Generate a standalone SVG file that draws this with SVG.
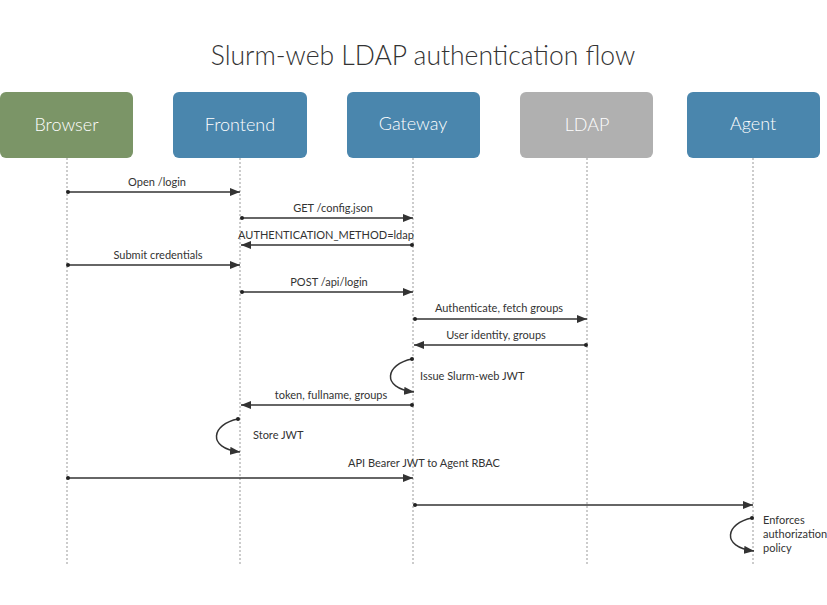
<svg xmlns="http://www.w3.org/2000/svg" width="827" height="605" viewBox="0 0 827 605">
<style>
.title{font-family:Lato,"Open Sans",sans-serif;font-size:26.5px;fill:#333;text-anchor:middle;font-weight:300}
.nt{font-family:Lato,"Open Sans",sans-serif;font-size:18px;fill:#fff;text-anchor:middle;font-weight:300}
.life{stroke:#cccccc;stroke-width:2;stroke-dasharray:2 2;fill:none}
.msg{stroke:#333;stroke-width:1.5;fill:none}
.lbl{font-family:Lato,"Open Sans",sans-serif;font-size:11px;fill:#333;text-anchor:middle}
.lbll{font-family:Lato,"Open Sans",sans-serif;font-size:11px;fill:#333;text-anchor:start}
.dot{fill:#222}
</style>
<defs>
<marker id="ah" viewBox="0 0 10 8" refX="10" refY="4" markerWidth="10" markerHeight="8" markerUnits="userSpaceOnUse" orient="auto">
<path d="M0,0 L10,4 L0,8 z" fill="#333"/>
</marker>
</defs>
<rect width="827" height="605" fill="#fff"/>
<text class="title" x="423" y="65">Slurm-web LDAP authentication flow</text>
<g id="lifelines">
<line class="life" x1="67" y1="158" x2="67" y2="566"/>
<line class="life" x1="240" y1="158" x2="240" y2="566"/>
<line class="life" x1="413" y1="158" x2="413" y2="566"/>
<line class="life" x1="587" y1="158" x2="587" y2="566"/>
<line class="life" x1="753" y1="158" x2="753" y2="566"/>
</g>
<g id="browser"><rect x="0" y="92" width="133" height="66" rx="6" fill="#7b9567"/><text class="nt" x="66.5" y="131">Browser</text></g>
<g id="frontend"><rect x="173" y="92" width="134" height="66" rx="6" fill="#4a86ad"/><text class="nt" x="240" y="131">Frontend</text></g>
<g id="gateway"><rect x="347" y="92" width="133" height="66" rx="6" fill="#4a86ad"/><text class="nt" x="413" y="130">Gateway</text></g>
<g id="ldap"><rect x="520" y="92" width="133" height="66" rx="6" fill="#b0b0b0"/><text class="nt" x="587" y="131">LDAP</text></g>
<g id="agent"><rect x="687" y="92" width="133" height="66" rx="6" fill="#4a86ad"/><text class="nt" x="753" y="130">Agent</text></g>
<g id="connectors">
<line class="msg" x1="67" y1="192" x2="240" y2="192" marker-end="url(#ah)"/><circle class="dot" cx="68" cy="192" r="2"/>
<text class="lbl" x="157" y="186">Open /login</text>
<line class="msg" x1="241" y1="218" x2="413" y2="218" marker-end="url(#ah)"/><circle class="dot" cx="242" cy="218" r="2"/>
<text class="lbl" x="333" y="212">GET /config.json</text>
<line class="msg" x1="413" y1="245" x2="241" y2="245" marker-end="url(#ah)"/><circle class="dot" cx="412" cy="245" r="2"/>
<text class="lbl" x="326" y="239">AUTHENTICATION_METHOD=ldap</text>
<line class="msg" x1="67" y1="265" x2="240" y2="265" marker-end="url(#ah)"/><circle class="dot" cx="68" cy="265" r="2"/>
<text class="lbl" x="158" y="259">Submit credentials</text>
<line class="msg" x1="241" y1="292" x2="413" y2="292" marker-end="url(#ah)"/><circle class="dot" cx="242" cy="292" r="2"/>
<text class="lbl" x="329" y="286">POST /api/login</text>
<line class="msg" x1="414" y1="319" x2="587" y2="319" marker-end="url(#ah)"/><circle class="dot" cx="415" cy="319" r="2"/>
<text class="lbl" x="499" y="312">Authenticate, fetch groups</text>
<line class="msg" x1="587" y1="345" x2="414" y2="345" marker-end="url(#ah)"/><circle class="dot" cx="586" cy="345" r="2"/>
<text class="lbl" x="496" y="339">User identity, groups</text>
<path class="msg" d="M412,359 C386,364 380,388 414,392" marker-end="url(#ah)"/><circle class="dot" cx="412" cy="359" r="2"/>
<text class="lbll" x="420" y="380">Issue Slurm-web JWT</text>
<line class="msg" x1="413" y1="405" x2="241" y2="405" marker-end="url(#ah)"/><circle class="dot" cx="412" cy="405" r="2"/>
<text class="lbl" x="331" y="399">token, fullname, groups</text>
<path class="msg" d="M238,419 C212,424 206,448 240,452" marker-end="url(#ah)"/><circle class="dot" cx="238" cy="419" r="2"/>
<text class="lbll" x="253" y="439">Store JWT</text>
<line class="msg" x1="67" y1="478" x2="413" y2="478" marker-end="url(#ah)"/><circle class="dot" cx="68" cy="478" r="2"/>
<text class="lbl" x="424" y="467">API Bearer JWT to Agent RBAC</text>
<line class="msg" x1="414" y1="505" x2="753" y2="505" marker-end="url(#ah)"/><circle class="dot" cx="415" cy="505" r="2"/>
<path class="msg" d="M752,518 C726,523 720,547 754,551" marker-end="url(#ah)"/><circle class="dot" cx="752" cy="518" r="2"/>
<text class="lbll" x="763" y="524">Enforces</text>
<text class="lbll" x="763" y="538">authorization</text>
<text class="lbll" x="763" y="552">policy</text>
</g>
</svg>
